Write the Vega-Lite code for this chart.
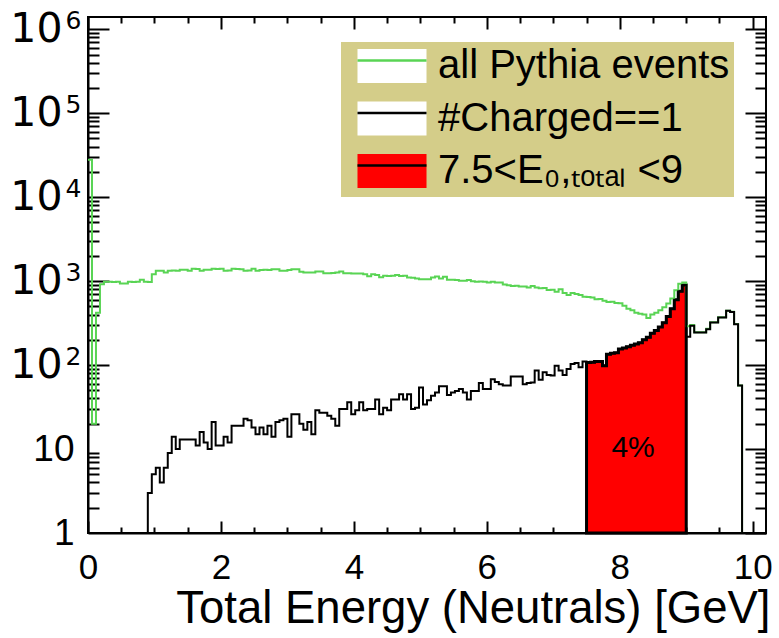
{
  "$schema": "https://vega.github.io/schema/vega-lite/v6.json",
  "width": 678,
  "height": 516,
  "autosize": {"type": "none"},
  "padding": {"left": 88, "top": 17, "right": 13, "bottom": 105},
  "background": "white",
  "config": {
    "view": {"stroke": "black", "strokeWidth": 2},
    "axis": {"grid": false, "domainColor": "black", "domainWidth": 2, "tickColor": "black", "tickWidth": 2, "labelColor": "black", "titleColor": "black", "labelFont": "Liberation Sans", "titleFont": "Liberation Sans"}
  },
  "data": {"values": [
    {"E":0.00,"all":28000},{"E":0.06,"all":20},{"E":0.12,"all":420},{"E":0.18,"all":920},{"E":0.24,"all":980},{"E":0.30,"all":985},{"E":0.36,"all":975},{"E":0.42,"all":980},{"E":0.48,"all":937},{"E":0.54,"all":940},
    {"E":0.60,"all":980},{"E":0.66,"all":975},{"E":0.72,"all":985},{"E":0.78,"all":1040},{"E":0.84,"all":980,"charged":1},{"E":0.90,"all":975,"charged":3},{"E":0.96,"all":1210,"charged":5},{"E":1.02,"all":1330,"charged":6},{"E":1.08,"all":1325,"charged":4},{"E":1.14,"all":1270,"charged":6},
    {"E":1.20,"all":1330,"charged":9},{"E":1.26,"all":1335,"charged":14},{"E":1.32,"all":1330,"charged":10},{"E":1.38,"all":1370,"charged":13},{"E":1.44,"all":1365,"charged":13},{"E":1.50,"all":1330,"charged":13},{"E":1.56,"all":1400,"charged":13},{"E":1.62,"all":1395,"charged":11},{"E":1.68,"all":1330,"charged":16},{"E":1.74,"all":1370,"charged":12},
    {"E":1.80,"all":1365,"charged":10},{"E":1.86,"all":1400,"charged":21},{"E":1.92,"all":1395,"charged":11},{"E":1.98,"all":1400,"charged":11},{"E":2.04,"all":1330,"charged":14},{"E":2.10,"all":1335,"charged":12},{"E":2.16,"all":1400,"charged":19},{"E":2.22,"all":1395,"charged":19},{"E":2.28,"all":1390,"charged":19},{"E":2.34,"all":1330,"charged":23},
    {"E":2.40,"all":1340,"charged":22},{"E":2.46,"all":1400,"charged":18},{"E":2.52,"all":1330,"charged":15},{"E":2.58,"all":1360,"charged":18},{"E":2.64,"all":1365,"charged":15},{"E":2.70,"all":1360,"charged":19},{"E":2.76,"all":1390,"charged":14},{"E":2.82,"all":1385,"charged":21},{"E":2.88,"all":1330,"charged":22},{"E":2.94,"all":1325,"charged":23},
    {"E":3.00,"all":1360,"charged":14},{"E":3.06,"all":1390,"charged":26},{"E":3.12,"all":1385,"charged":26},{"E":3.18,"all":1290,"charged":20},{"E":3.24,"all":1270,"charged":17},{"E":3.30,"all":1265,"charged":21},{"E":3.36,"all":1270,"charged":15},{"E":3.42,"all":1300,"charged":29},{"E":3.48,"all":1305,"charged":27},{"E":3.54,"all":1245,"charged":27},
    {"E":3.60,"all":1245,"charged":25},{"E":3.66,"all":1250,"charged":23},{"E":3.72,"all":1270,"charged":19},{"E":3.78,"all":1300,"charged":30},{"E":3.84,"all":1245,"charged":30},{"E":3.90,"all":1245,"charged":36},{"E":3.96,"all":1235,"charged":26},{"E":4.02,"all":1230,"charged":29},{"E":4.08,"all":1235,"charged":36},{"E":4.14,"all":1210,"charged":29},
    {"E":4.20,"all":1140,"charged":30},{"E":4.26,"all":1210,"charged":30},{"E":4.32,"all":1180,"charged":39},{"E":4.38,"all":1110,"charged":26},{"E":4.44,"all":1160,"charged":31},{"E":4.50,"all":1155,"charged":29},{"E":4.56,"all":1160,"charged":39},{"E":4.62,"all":1180,"charged":39},{"E":4.68,"all":1155,"charged":45},{"E":4.74,"all":1160,"charged":39},
    {"E":4.80,"all":1105,"charged":45},{"E":4.86,"all":1100,"charged":30},{"E":4.92,"all":1075,"charged":31},{"E":4.98,"all":1055,"charged":54},{"E":5.04,"all":1055,"charged":34},{"E":5.10,"all":1050,"charged":38},{"E":5.16,"all":1105,"charged":43},{"E":5.22,"all":1135,"charged":47},{"E":5.28,"all":1075,"charged":56},{"E":5.34,"all":1125,"charged":56},
    {"E":5.40,"all":1040,"charged":44},{"E":5.46,"all":1040,"charged":47},{"E":5.52,"all":1030,"charged":49},{"E":5.58,"all":1010,"charged":52},{"E":5.64,"all":1010,"charged":47},{"E":5.70,"all":1030,"charged":39},{"E":5.76,"all":1000,"charged":49},{"E":5.82,"all":982,"charged":49},{"E":5.88,"all":990,"charged":61},{"E":5.94,"all":982,"charged":52},
    {"E":6.00,"all":964,"charged":52},{"E":6.06,"all":982,"charged":68},{"E":6.12,"all":964,"charged":63},{"E":6.18,"all":960,"charged":59},{"E":6.24,"all":910,"charged":57},{"E":6.30,"all":893,"charged":57},{"E":6.36,"all":877,"charged":73},{"E":6.42,"all":880,"charged":73},{"E":6.48,"all":862,"charged":73},{"E":6.54,"all":865,"charged":59},
    {"E":6.60,"all":840,"charged":61},{"E":6.66,"all":877,"charged":62},{"E":6.72,"all":840,"charged":86},{"E":6.78,"all":825,"charged":67},{"E":6.84,"all":828,"charged":82},{"E":6.90,"all":785,"charged":76},{"E":6.96,"all":790,"charged":75},{"E":7.02,"all":747,"charged":98},{"E":7.08,"all":802,"charged":86},{"E":7.14,"all":720,"charged":76},
    {"E":7.20,"all":683,"charged":90},{"E":7.26,"all":720,"charged":103},{"E":7.32,"all":703,"charged":106},{"E":7.38,"all":685,"charged":94},{"E":7.44,"all":650,"charged":110},{"E":7.50,"all":645,"charged":107},{"E":7.56,"all":638,"charged":108},{"E":7.62,"all":610,"charged":110},{"E":7.68,"all":612,"charged":110},{"E":7.74,"all":583,"charged":98},
    {"E":7.80,"all":565,"charged":135},{"E":7.86,"all":568,"charged":138},{"E":7.92,"all":548,"charged":140},{"E":7.98,"all":545,"charged":155},{"E":8.04,"all":510,"charged":160},{"E":8.10,"all":470,"charged":165},{"E":8.16,"all":450,"charged":172},{"E":8.22,"all":420,"charged":178},{"E":8.28,"all":410,"charged":185},{"E":8.34,"all":400,"charged":200},
    {"E":8.40,"all":365,"charged":215},{"E":8.46,"all":400,"charged":240},{"E":8.52,"all":420,"charged":258},{"E":8.58,"all":450,"charged":285},{"E":8.64,"all":490,"charged":320},{"E":8.70,"all":540,"charged":380},{"E":8.76,"all":620,"charged":470},{"E":8.82,"all":780,"charged":600},{"E":8.88,"all":930,"charged":760},{"E":8.94,"all":960,"charged":900},
    {"E":9.00,"all":290,"charged":217},{"E":9.06,"all":300,"charged":294},{"E":9.12,"all":246,"charged":244},{"E":9.18,"all":246,"charged":244},{"E":9.24,"all":246,"charged":244},{"E":9.30,"all":270,"charged":268},{"E":9.36,"all":323,"charged":321},{"E":9.42,"all":323,"charged":321},{"E":9.48,"all":371,"charged":369},{"E":9.54,"all":371,"charged":369},
    {"E":9.60,"all":445,"charged":443},{"E":9.66,"all":432,"charged":430},{"E":9.72,"all":309,"charged":307},{"E":9.78,"all":57,"charged":57},{"E":9.84,"all":1,"charged":1}
  ]},
  "resolve": {"axis": {"x": "independent", "y": "independent"}},
  "layer": [
    {
      "transform": [{"filter": {"field": "E", "range": [7.5, 9]}}],
      "mark": {"type": "area", "interpolate": "step-after", "strokeWidth": 3, "strokeJoin": "miter"},
      "encoding": {
        "x": {"field": "E", "type": "quantitative", "scale": {"domain": [0, 10.2], "nice": false, "zero": false},
          "axis": {"orient": "top", "values": [0,2,4,6,8,10], "tickSize": -12, "labels": false, "domain": false, "title": null}},
        "y": {"field": "charged", "type": "quantitative", "stack": null, "scale": {"type": "log", "domain": [1, 1400000], "nice": false},
          "axis": {"orient": "right", "values": [1,10,100,1000,10000,100000,1000000], "tickSize": -21, "labels": false, "domain": false, "title": null}},
        "fill": {"datum": "7.5<E₀,ₜₒₜₐₗ <9", "type": "nominal",
          "scale": {"domain": ["all Pythia events", "#Charged==1", "7.5<E₀,ₜₒₜₐₗ <9"], "range": ["white", "white", "#ff0000"]},
          "legend": {"orient": "none", "legendX": 253, "legendY": 25, "title": null, "fillColor": "#d4cd89", "padding": 4,
            "symbolType": "M-2.03,-0.32H2.03V-1H-2.03V1H2.03V-0.32Z", "symbolSize": 1156, "symbolStrokeWidth": 2.5, "symbolDash": [69, 1000], "symbolOffset": 27,
            "labelFont": "Liberation Sans", "labelFontSize": 40, "labelColor": "black", "labelLimit": 0, "labelOffset": 26, "rowPadding": 8.5}},
        "stroke": {"datum": "7.5<E₀,ₜₒₜₐₗ <9", "type": "nominal",
          "scale": {"domain": ["all Pythia events", "#Charged==1", "7.5<E₀,ₜₒₜₐₗ <9"], "range": ["#59d454", "black", "black"]},
          "legend": {"orient": "none", "legendX": 253, "legendY": 25, "title": null, "fillColor": "#d4cd89", "padding": 4,
            "symbolType": "M-2.03,-0.32H2.03V-1H-2.03V1H2.03V-0.32Z", "symbolSize": 1156, "symbolStrokeWidth": 2.5, "symbolDash": [69, 1000], "symbolOffset": 27,
            "labelFont": "Liberation Sans", "labelFontSize": 40, "labelColor": "black", "labelLimit": 0, "labelOffset": 26, "rowPadding": 8.5}}
      }
    },
    {
      "mark": {"type": "line", "interpolate": "step-after", "strokeWidth": 2},
      "encoding": {
        "x": {"field": "E", "type": "quantitative", "scale": {"domain": [0, 10.2], "nice": false, "zero": false},
          "axis": {"orient": "bottom", "values": [0,2,4,6,8,10], "tickSize": -12, "labelFontSize": 35, "labelPadding": 29, "labelFlush": false, "title": "Total Energy (Neutrals) [GeV]", "titleFontSize": 45.5, "titleFontWeight": "normal", "titleAlign": "right", "titleAnchor": "end", "titleX": 682, "titleBaseline": "alphabetic", "titleY": 89}},
        "y": {"field": "all", "type": "quantitative", "scale": {"type": "log", "domain": [1, 1400000], "nice": false},
          "axis": {"orient": "left", "values": [100,1000,10000,100000,1000000], "tickSize": -21, "labelFont": "DejaVu Sans", "labelFontSize": 41, "labelPadding": 47, "title": null, "labelExpr": "'10'"}},
        "stroke": {"datum": "all Pythia events", "type": "nominal", "legend": null}
      }
    },
    {
      "mark": {"type": "line", "interpolate": "step-after", "strokeWidth": 2},
      "encoding": {
        "x": {"field": "E", "type": "quantitative", "scale": {"domain": [0, 10.2], "nice": false, "zero": false},
          "axis": {"orient": "bottom", "values": [0.5,1,1.5,2.5,3,3.5,4.5,5,5.5,6.5,7,7.5,8.5,9,9.5], "tickSize": -6, "labels": false, "domain": false, "title": null}},
        "y": {"field": "charged", "type": "quantitative", "scale": {"type": "log", "domain": [1, 1400000], "nice": false},
          "axis": {"orient": "left", "values": [2,3,4,5,6,7,8,9,20,30,40,50,60,70,80,90,200,300,400,500,600,700,800,900,2000,3000,4000,5000,6000,7000,8000,9000,20000,30000,40000,50000,60000,70000,80000,90000,200000,300000,400000,500000,600000,700000,800000,900000], "tickSize": -11, "labels": false, "domain": false, "title": null}},
        "stroke": {"datum": "#Charged==1", "type": "nominal", "legend": null}
      }
    },
    {
      "data": {"values": [{"label": "4%"}]},
      "mark": {"type": "text", "font": "Liberation Sans", "fontSize": 30, "align": "center", "baseline": "alphabetic", "fill": "black"},
      "encoding": {
        "text": {"field": "label", "type": "nominal"},
        "x": {"datum": 8.2, "type": "quantitative", "scale": {"domain": [0, 10.2], "nice": false, "zero": false},
          "axis": {"orient": "top", "values": [0.5,1,1.5,2.5,3,3.5,4.5,5,5.5,6.5,7,7.5,8.5,9,9.5], "tickSize": -6, "labels": false, "domain": false, "title": null}},
        "y": {"datum": 8, "type": "quantitative", "scale": {"type": "log", "domain": [1, 1400000], "nice": false},
          "axis": {"orient": "right", "values": [2,3,4,5,6,7,8,9,20,30,40,50,60,70,80,90,200,300,400,500,600,700,800,900,2000,3000,4000,5000,6000,7000,8000,9000,20000,30000,40000,50000,60000,70000,80000,90000,200000,300000,400000,500000,600000,700000,800000,900000], "tickSize": -11, "labels": false, "domain": false, "title": null}}
      }
    },
    {
      "data": {"values": [{"label": ""}]},
      "mark": {"type": "text", "opacity": 0},
      "encoding": {
        "text": {"field": "label", "type": "nominal"},
        "x": {"datum": 5, "type": "quantitative", "scale": {"domain": [0, 10.2], "nice": false, "zero": false}, "axis": null},
        "y": {"datum": 100, "type": "quantitative", "scale": {"type": "log", "domain": [1, 1400000], "nice": false},
          "axis": {"orient": "left", "values": [100,1000,10000,100000,1000000], "labelExpr": "datum.value == 100 ? '2' : datum.value == 1000 ? '3' : datum.value == 10000 ? '4' : datum.value == 100000 ? '5' : '6'", "ticks": false, "domain": false, "labelFont": "DejaVu Sans", "labelFontSize": 25, "labelPadding": 7, "labelOffset": -9, "title": null}}
      }
    },
    {
      "data": {"values": [{"label": ""}]},
      "mark": {"type": "text", "opacity": 0},
      "encoding": {
        "text": {"field": "label", "type": "nominal"},
        "x": {"datum": 5, "type": "quantitative", "scale": {"domain": [0, 10.2], "nice": false, "zero": false}, "axis": null},
        "y": {"datum": 10, "type": "quantitative", "scale": {"type": "log", "domain": [1, 1400000], "nice": false},
          "axis": {"orient": "left", "values": [1, 10], "ticks": false, "domain": false, "labelFontSize": 37, "labelPadding": 14, "title": null}}
      }
    }
  ]
}
